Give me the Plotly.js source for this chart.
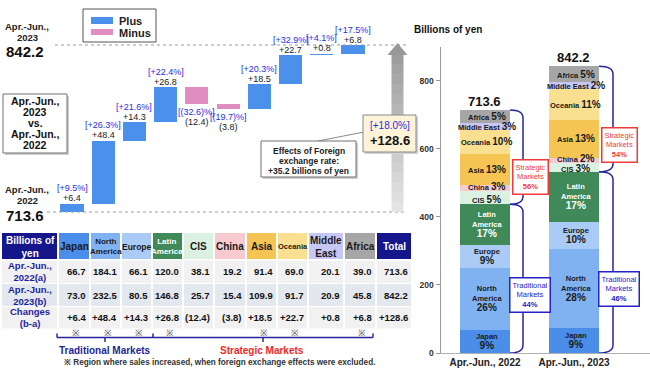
<!DOCTYPE html>
<html><head><meta charset="utf-8">
<script src="https://cdn.plot.ly/plotly-3.0.1.min.js"></script>
<style>html,body{margin:0;padding:0;background:#fff}#chart{width:650px;height:378px}</style>
</head><body><div id="chart"></div>
<script>
// ---------------- data ----------------
const regions = ['Japan','North America','Europe','Latin America','CIS','China','Asia','Oceania','Middle East','Africa'];
const headerLabels = ['Japan','North<br>America','Europe','Latin<br>America','CIS','China','Asia','Oceania','Middle<br>East','Africa'];
const segmentLabels = ['Japan','North<br>America','Europe','Latin<br>America','CIS','China','Asia','Oceania','Middle East','Africa'];
const sales2022 = [66.7,184.1,66.1,120.0,38.1,19.2,91.4,69.0,20.1,39.0];
const sales2023 = [73.0,232.5,80.5,146.8,25.7,15.4,109.9,91.7,20.9,45.8];
const changes = [6.4,48.4,14.3,26.8,-12.4,-3.8,18.5,22.7,0.8,6.8];
const changePct = [9.5,26.3,21.6,22.4,-32.6,-19.7,20.3,32.9,4.1,17.5];
const share2022 = [9,26,9,17,5,3,13,10,3,5];
const share2023 = [9,28,10,17,3,2,13,11,2,5];
const fxExcludedIncrease = [true,true,true,true,false,false,true,true,false,true];
const total2022 = 713.6, total2023 = 842.2, totalChange = 128.6, totalPct = 18.0;
const fxEffect = 35.2;
const strategicShare = [56,54], traditionalShare = [44,46];
const periods = ['Apr.-Jun., 2022','Apr.-Jun., 2023'];
const rowLabels = ['Apr.-Jun.,<br>2022(a)','Apr.-Jun.,<br>2023(b)','Changes<br>(b-a)'];
const yTicks = [0,200,400,600,800];

// ---------------- styles ----------------
const W = 650, H = 378;
const px = x => x / W, py = y => 1 - y / H;
const FONT = 'Arial, "Liberation Sans", Helvetica, sans-serif';
const PLUS = '#4b91ec', MINUS = '#e28dc1';
const NAVY = '#16168c', BRACE = '#2525a0', PCTBLUE = '#2c2ce6';
const regionColors = ['#4a8ee9','#80b2f2','#a9cbf6','#3f8a58','#dbf2e3','#f6cacf','#f5c453','#f9df90','#c7c7f5','#a6a6a6'];
const regionText = ['#1a1a1a','#1a1a1a','#1a1a1a','#ffffff','#1a1a1a','#1a1a1a','#1a1a1a','#1a1a1a','#1a1a1a','#1a1a1a'];
const headerFontSize = [10,8,8.5,8,10,10,10,7.5,10,10];
const f = (size, color, bold) => ({family: FONT, size: size, color: color || '#222', weight: bold ? 'bold' : 'normal'});

const traces = [], shapes = [], annotations = [];
function A(x, y, text, font, extra) {
  annotations.push(Object.assign({xref:'paper', yref:'paper', x:px(x), y:py(y), text:text, font:font,
    showarrow:false, xanchor:'center', yanchor:'middle', borderpad:0}, extra || {}));
}
function R(x0, y0, x1, y1, fill, line, lw) {
  shapes.push({type:'rect', xref:'paper', yref:'paper', x0:px(x0), x1:px(x1), y0:py(y1), y1:py(y0),
    fillcolor:fill, line:{color: line || fill, width: line ? (lw || 1) : 0}});
}
function L(x0, y0, x1, y1, color, w, dash) {
  shapes.push({type:'line', xref:'paper', yref:'paper', x0:px(x0), x1:px(x1), y0:py(y0), y1:py(y1),
    line:{color:color, width:w || 1, dash: dash || 'solid'}});
}
const fmtChange = v => v >= 0 ? '+' + v.toFixed(1) : '(' + Math.abs(v).toFixed(1) + ')';
const fmtPct = v => v >= 0 ? '[+' + v.toFixed(1) + '%]' : '[(' + Math.abs(v).toFixed(1) + ')%]';

// ---------------- waterfall ----------------
let run = total2022; const base = [], after = [];
changes.forEach(c => { base.push(run); run = +(run + c).toFixed(1); after.push(run); });
traces.push({type:'bar', x:regions, y:changes, base:base, width:0.74, xaxis:'x', yaxis:'y',
  marker:{color: changes.map(c => c >= 0 ? PLUS : MINUS), line:{width:0}}, hoverinfo:'skip'});

regions.forEach((r, i) => {
  const c = changes[i];
  const common = {xref:'x', yref:'y', x:r, showarrow:false, xanchor:'center', yanchor:'middle', borderpad:0};
  if (c >= 0) {
    annotations.push(Object.assign({}, common, {y:after[i], yshift:5.5, text:fmtChange(c), font:f(9,'#222',false)}));
    annotations.push(Object.assign({}, common, {y:after[i], yshift:15.5, text:fmtPct(changePct[i]), font:f(9,PCTBLUE,false)}));
  } else {
    annotations.push(Object.assign({}, common, {y:after[i], yshift:-8, text:fmtPct(changePct[i]), font:f(9,PCTBLUE,false)}));
    annotations.push(Object.assign({}, common, {y:after[i], yshift:-18, text:fmtChange(c), font:f(9,'#222',false)}));
  }
});

// dotted reference lines
shapes.push({type:'line', xref:'paper', yref:'y', x0:px(55), x1:px(406), y0:total2023, y1:total2023, line:{color:'#9a9a9a', width:1, dash:'dot'}});
shapes.push({type:'line', xref:'paper', yref:'y', x0:px(47), x1:px(406), y0:total2022, y1:total2022, line:{color:'#9a9a9a', width:1, dash:'dot'}});

// gradient arrow
const wfScale = 167 / (total2023 - total2022);
const headBase = total2023 - 10 / wfScale, tip = total2023 + 2 / wfScale;
const nBands = 16;
for (let k = 0; k < nBands; k++) {
  const v0 = total2022 + (headBase - total2022) * k / nBands;
  const v1 = total2022 + (headBase - total2022) * (k + 1) / nBands + 0.3;
  const g = Math.round(228 - (228 - 158) * k / (nBands - 1));
  shapes.push({type:'rect', xref:'paper', yref:'y', x0:px(391.5), x1:px(403.5), y0:v0, y1:v1,
    fillcolor:`rgb(${g},${g},${g})`, line:{width:0}});
}
shapes.push({type:'path', xref:'paper', yref:'y',
  path:`M ${px(387.5)},${headBase} L ${px(407.5)},${headBase} L ${px(397.5)},${tip} Z`,
  fillcolor:'rgb(152,152,152)', line:{width:0}});

// left period labels
A(27, 26, 'Apr.-Jun.,', f(9.5,'#222',true));
A(27, 37.5, '2023', f(9.5,'#222',true));
A(25, 51.5, total2023.toFixed(1), f(15,'#111',true));
A(27, 189, 'Apr.-Jun.,', f(9.5,'#222',true));
A(27, 200, '2022', f(9.5,'#222',true));
A(25, 215, total2022.toFixed(1), f(15,'#111',true));

// legend
R(83, 9, 156, 42, '#ffffff', '#555', 1);
R(91, 17, 113, 24, PLUS);
R(91, 29, 113, 35, MINUS);
A(118, 21, 'Plus', f(11,'#222',true), {xanchor:'left'});
A(118, 33, 'Minus', f(11,'#222',true), {xanchor:'left'});

// comparison box
R(5, 96, 69, 155, '#cfcfcf');
R(3, 94, 67, 153, '#ffffff', '#707070', 1);
['Apr.-Jun.,','2023','vs.','Apr.-Jun.,','2022'].forEach((t, k) => A(35, 101 + k * 11, t, f(10.5,'#111',true)));

// FX effect box + connector
L(318, 141, 364, 132, '#888', 1);
R(263, 143, 358, 179, '#cfcfcf');
R(261, 141, 356, 177, '#ffffff', '#707070', 1);
A(308.5, 151, 'Effects of Foreign', f(8.5,'#222',true));
A(308.5, 161, 'exchange rate:', f(8.5,'#222',true));
A(308.5, 171, '+' + fxEffect.toFixed(1) + ' billions of yen', f(8.5,'#222',true));

// total change box
R(365, 117, 418, 154, '#d0d0d0');
R(363, 115, 416, 152, '#fdf3d6', '#8a8a8a', 1);
A(389.5, 126, fmtPct(totalPct), f(10,PCTBLUE,false));
A(389.5, 140, fmtChange(totalChange), f(13,'#111',true));

// ---------------- table ----------------
const colEdges = [2,58,90,121,152,183,214,246,277,308,344,376,411];
const rowEdges = [233,260,283.5,306.5,329];
const rowFill = ['#f1f1f1','#e3e7ee','#f1f1f1'];
const rowValues = [
  sales2022.map(v => v.toFixed(1)).concat([total2022.toFixed(1)]),
  sales2023.map(v => v.toFixed(1)).concat([total2023.toFixed(1)]),
  changes.map(fmtChange).concat([fmtChange(totalChange)])
];
// header
R(colEdges[0], rowEdges[0], colEdges[1] - 1, rowEdges[1] - 1, NAVY);
A((colEdges[0] + colEdges[1]) / 2, (rowEdges[0] + rowEdges[1]) / 2, 'Billions of<br>yen', f(10,'#ffffff',true));
headerLabels.forEach((h, i) => {
  const x0 = colEdges[i + 1] + 1, x1 = colEdges[i + 2] - 1;
  R(x0, rowEdges[0], x1, rowEdges[1] - 1, regionColors[i]);
  A((x0 + x1) / 2, (rowEdges[0] + rowEdges[1]) / 2, h, f(headerFontSize[i], regionText[i], true));
});
R(colEdges[11] + 1, rowEdges[0], colEdges[12], rowEdges[1] - 1, NAVY);
A((colEdges[11] + colEdges[12]) / 2 + 1, (rowEdges[0] + rowEdges[1]) / 2, 'Total', f(10,'#ffffff',true));
// body
rowLabels.forEach((lab, r) => {
  const y0 = rowEdges[r + 1] + 0.5, y1 = rowEdges[r + 2] - 0.5;
  R(colEdges[0], y0, colEdges[1] - 1, y1, rowFill[r]);
  A((colEdges[0] + colEdges[1]) / 2, (y0 + y1) / 2, lab, f(9.5,'#1f1fa0',true));
  rowValues[r].forEach((v, c) => {
    const x0 = colEdges[c + 1] + 1, x1 = colEdges[c + 2] - (c === 10 ? 0 : 1);
    R(x0, y0, x1, y1, rowFill[r]);
    A(x1 - 2, (y0 + y1) / 2, v, f(9.5,'#111',true), {xanchor:'right'});
  });
});
// marks + brackets
fxExcludedIncrease.forEach((m, i) => {
  if (m) A((colEdges[i + 1] + colEdges[i + 2]) / 2 + 2, 333, '※', f(9,'#444',false));
});
L(57, 337.5, 153, 337.5, BRACE, 1.5); L(57, 333.5, 57, 337.5, BRACE, 1.5); L(153, 333.5, 153, 337.5, BRACE, 1.5);
L(105, 337.5, 105, 342, BRACE, 1.5);
L(153, 337.5, 373, 337.5, BRACE, 1.5); L(373, 333.5, 373, 337.5, BRACE, 1.5); L(263, 337.5, 263, 342, BRACE, 1.5);
A(105, 350, 'Traditional Markets', f(10,'#1f1f9a',true));
A(262, 350, 'Strategic Markets', f(10,'#f02828',true));
A(63, 362, '※ Region where sales increased, when foreign exchange effects were excluded.', f(8.2,'#333',true), {xanchor:'left'});

// ---------------- stacked bars ----------------
const yTop2 = 899, pxPerUnit2 = (353 - 47) / yTop2;
regions.forEach((r, i) => {
  traces.push({type:'bar', name:r, x:periods, y:[sales2022[i], sales2023[i]], width:0.56,
    xaxis:'x2', yaxis:'y2', marker:{color:regionColors[i], line:{width:0}}, hoverinfo:'skip'});
});
[share2022, share2023].forEach((shares, p) => {
  const vals = p === 0 ? sales2022 : sales2023;
  let cum = 0;
  vals.forEach((v, i) => {
    const mid = cum + v / 2; cum += v;
    const sep = i < 4 ? '<br>' : ' ';
    // nudge labels of thin neighbouring segments apart
    let ys = 0;
    const hPx = v * pxPerUnit2;
    if (hPx < 10 && i === 5) ys = 2;
    if (vals[5] * pxPerUnit2 < 10 && i === 4) ys = -1.5;
    annotations.push({xref:'x2', yref:'y2', x:periods[p], y:mid, showarrow:false, xanchor:'center', yanchor:'middle', borderpad:0,
      xshift: 2, yshift: ys,
      text:`${segmentLabels[i]}${sep}<span style="font-size:10px">${shares[i]}%</span>`,
      font:f(7.5, regionText[i], true)});
  });
  const tot = p === 0 ? total2022 : total2023;
  annotations.push({xref:'x2', yref:'y2', x:periods[p], y:tot, yshift:9, showarrow:false, xanchor:'center', yanchor:'middle',
    text:tot.toFixed(1), font:f(13,'#111',true)});
});

// braces
function bracePath(xl, xr, vBot, vTop, rPx) {
  const r = rPx / pxPerUnit2;
  return `M ${px(xl)},${vTop} Q ${px(xr)},${vTop} ${px(xr)},${vTop - r} L ${px(xr)},${vBot + r} Q ${px(xr)},${vBot} ${px(xl)},${vBot}`;
}
const trad2022 = sales2022.slice(0, 4).reduce((a, b) => a + b, 0);
const trad2023 = sales2023.slice(0, 4).reduce((a, b) => a + b, 0);
[[510, 523, trad2022, total2022], [599, 613, trad2023, total2023]].forEach(([xl, xr, tr, tot]) => {
  shapes.push({type:'path', xref:'paper', yref:'y2', path:bracePath(xl, xr, tr, tot, 8), line:{color:BRACE, width:1.5}});
  shapes.push({type:'path', xref:'paper', yref:'y2', path:bracePath(xl, xr, 0, tr, 8), line:{color:BRACE, width:1.5}});
});
// market share boxes
const boxAnn = (x, y, name, share, color) => A(x, y,
  `${name}<br>Markets<br><b>${share}%</b>`, f(7.5, color, false),
  {bordercolor:color, borderwidth:1.5, borderpad:2, bgcolor:'#ffffff'});
boxAnn(530, 177.5, 'Strategic', strategicShare[0], '#ee3b3b');
boxAnn(529.5, 294.5, 'Traditional', traditionalShare[0], '#2323c8');
boxAnn(619, 145, 'Strategic', strategicShare[1], '#ee3b3b');
boxAnn(619, 288.5, 'Traditional', traditionalShare[1], '#2323c8');

A(413, 29, 'Billions of yen', f(10,'#111',true), {xanchor:'left'});

// ---------------- layout ----------------
const layout = {
  width: W, height: H, margin:{l:0, r:0, t:0, b:0, pad:0},
  paper_bgcolor:'#ffffff', plot_bgcolor:'rgba(0,0,0,0)',
  showlegend:false, barmode:'stack', font:{family:FONT},
  xaxis:{domain:[0, 420 / W], type:'category', range:[-2.306, 11.146], visible:false, fixedrange:true},
  yaxis:{domain:[(H - 230) / H, 1], range:[total2022 - 18 / wfScale, total2023 + 45 / wfScale], visible:false, fixedrange:true},
  xaxis2:{domain:[441 / W, 1], anchor:'y2', type:'category', range:[-0.494, 1.854],
    showline:true, linecolor:'#b0b0b0', linewidth:1, ticks:'', showgrid:false, zeroline:false,
    tickfont:f(10,'#222',true), fixedrange:true},
  yaxis2:{domain:[(H - 353) / H, (H - 47) / H], anchor:'x2', range:[0, yTop2],
    showline:true, linecolor:'#9a9a9a', linewidth:1.5, ticks:'outside', ticklen:4, tickcolor:'#9a9a9a',
    tickvals:yTicks, tickfont:f(8.5,'#333',true), showgrid:false, zeroline:false, fixedrange:true},
  shapes: shapes, annotations: annotations
};
Plotly.newPlot('chart', traces, layout, {staticPlot:true, displayModeBar:false});
</script></body></html>
